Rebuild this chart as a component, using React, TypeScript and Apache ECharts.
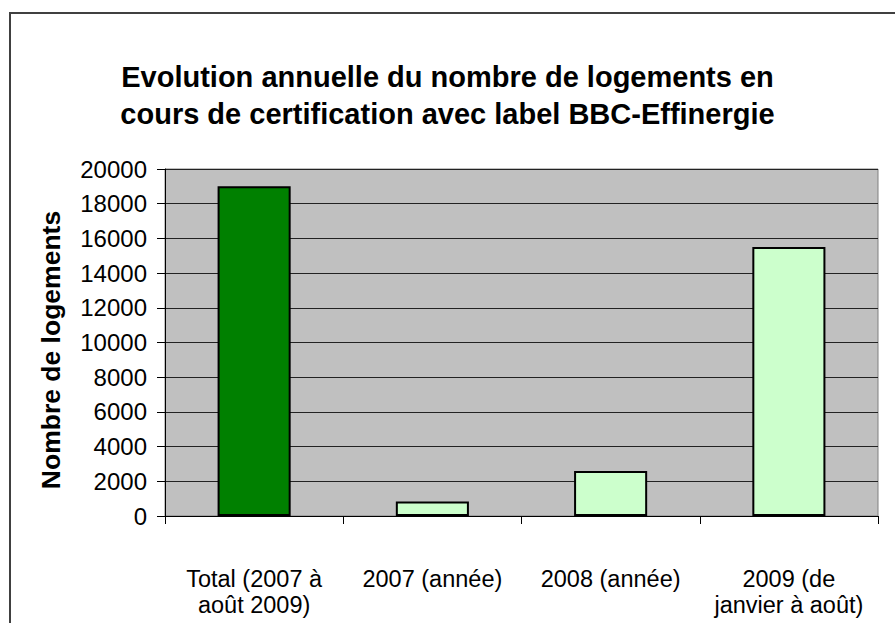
import React, { useEffect, useRef } from "react";
import * as echarts from "echarts";

const categories = [
  "Total (2007 à\naoût 2009)",
  "2007 (année)",
  "2008 (année)",
  "2009 (de\njanvier à août)",
];
const values = [19000, 830, 2600, 15500];
const barColors = ["#008000", "#CCFFCC", "#CCFFCC", "#CCFFCC"];
const titleText =
  "Evolution annuelle du nombre de logements en\ncours de certification avec label BBC-Effinergie";
const yAxisName = "Nombre de logements";

const FONT = "'Liberation Sans', Arial, sans-serif";

export default function App() {
  const ref = useRef<HTMLDivElement>(null);
  useEffect(() => {
    if (!ref.current) return;
    const chart = echarts.init(ref.current, null, { renderer: "svg" });
    chart.setOption({
      animation: false,
      backgroundColor: "#ffffff",
      textStyle: { fontFamily: FONT },
      graphic: [
        {
          type: "rect",
          shape: { x: 10, y: 13, width: 1000, height: 1000 },
          style: { fill: "none", stroke: "#404040", lineWidth: 2 },
          silent: true,
        },
      ],
      title: {
        text: titleText,
        left: "center",
        top: 53,
        textStyle: {
          fontFamily: FONT,
          fontSize: 29,
          fontWeight: "bold",
          color: "#000",
          lineHeight: 37,
        },
      },
      grid: {
        left: 165,
        top: 169,
        right: 17,
        bottom: 107,
        show: true,
        backgroundColor: "#C0C0C0",
        borderColor: "#808080",
        borderWidth: 1,
      },
      xAxis: {
        type: "category",
        data: categories,
        axisLine: { lineStyle: { color: "#000", width: 1 } },
        axisTick: { show: true, length: 8, lineStyle: { color: "#000" } },
        axisLabel: {
          fontFamily: FONT,
          fontSize: 23.5,
          color: "#000",
          margin: 50,
          lineHeight: 26,
          interval: 0,
        },
      },
      yAxis: {
        type: "value",
        min: 0,
        max: 20000,
        interval: 2000,
        name: yAxisName,
        nameLocation: "middle",
        nameGap: 101,
        nameTextStyle: {
          fontFamily: FONT,
          fontSize: 26.5,
          fontWeight: "bold",
          color: "#000",
          padding: [0, 15, 0, 0],
        },
        axisLine: { show: true, lineStyle: { color: "#000", width: 1 } },
        axisTick: { show: true, length: 8, lineStyle: { color: "#000" } },
        axisLabel: {
          fontFamily: FONT,
          fontSize: 24,
          color: "#000",
          margin: 18,
          formatter: (v: number) => String(v),
        },
        splitLine: { show: true, lineStyle: { color: "#222", width: 1 } },
      },
      series: [
        {
          type: "bar",
          barWidth: "41%",
          data: values.map((v, i) => ({
            value: v,
            itemStyle: { color: barColors[i] },
          })),
          itemStyle: { borderColor: "#000", borderWidth: 2 },
        },
      ],
    });
    return () => chart.dispose();
  }, []);
  return (
    <div
      ref={ref}
      style={{ position: "fixed", left: 0, top: 0, width: 895, height: 623 }}
    />
  );
}
